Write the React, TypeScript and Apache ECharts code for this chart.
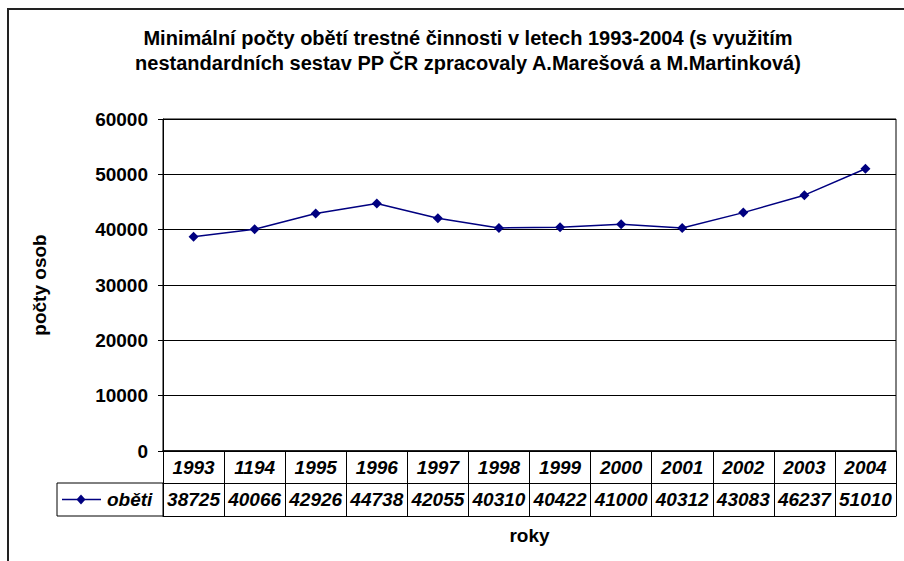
import React, { useEffect, useRef } from "react";
import * as echarts from "echarts";

const years = ["1993", "1194", "1995", "1996", "1997", "1998", "1999", "2000", "2001", "2002", "2003", "2004"];
const victims = [38725, 40066, 42926, 44738, 42055, 40310, 40422, 41000, 40312, 43083, 46237, 51010];
const seriesName = "oběti";
const titleText = "Minimální počty obětí trestné činnosti v letech 1993-2004 (s využitím\nnestandardních sestav PP ČR zpracovaly A.Marešová a M.Martinková)";
const yName = "počty osob";
const xName = "roky";

const FONT = "'Liberation Sans', Arial, sans-serif";
const NAVY = "#000080";

export default function App() {
  const ref = useRef<HTMLDivElement>(null);
  useEffect(() => {
    if (!ref.current) return;
    const chart = echarts.init(ref.current, undefined, { renderer: "svg" });
    const cellLabel = {
      fontFamily: FONT,
      fontSize: 19,
      fontWeight: "bold" as const,
      fontStyle: "italic" as const,
      color: "#000",
      verticalAlign: "middle" as const,
    };
    chart.setOption({
      animation: false,
      backgroundColor: "#fff",
      title: {
        text: titleText,
        left: 468,
        top: 25,
        padding: 0,
        textAlign: "center",
        textStyle: {
          fontFamily: FONT,
          fontSize: 20,
          fontWeight: "bold",
          color: "#000",
          lineHeight: 25,
        },
      },
      grid: {
        left: 163,
        right: 8,
        top: 119,
        bottom: 110,
        show: true,
        borderColor: "#000",
        borderWidth: 1,
        backgroundColor: "transparent",
      },
      xAxis: [
        {
          type: "category",
          data: years,
          boundaryGap: true,
          axisLine: { show: true, lineStyle: { color: "#000", width: 1.5 } },
          axisTick: { show: true, interval: 0, length: 32, lineStyle: { color: "#000" } },
          axisLabel: { ...cellLabel, margin: 16, interval: 0 },
          splitLine: { show: false },
        },
        {
          type: "category",
          data: victims.map((v) => String(v)),
          position: "bottom",
          offset: 32,
          boundaryGap: true,
          axisLine: { show: true, lineStyle: { color: "#000" } },
          axisTick: { show: true, interval: 0, length: 33, lineStyle: { color: "#000" } },
          axisLabel: { ...cellLabel, margin: 16.5, interval: 0 },
          splitLine: { show: false },
        },
        {
          type: "category",
          data: years,
          position: "bottom",
          offset: 65,
          boundaryGap: true,
          axisLine: { show: true, lineStyle: { color: "#000" } },
          axisTick: { show: false },
          axisLabel: { show: false },
          splitLine: { show: false },
          name: xName,
          nameLocation: "middle",
          nameGap: 19,
          nameTextStyle: {
            fontFamily: FONT,
            fontSize: 19,
            fontWeight: "bold",
            color: "#000",
            verticalAlign: "middle",
          },
        },
      ],
      yAxis: {
        type: "value",
        min: 0,
        max: 60000,
        interval: 10000,
        axisLine: { show: true, lineStyle: { color: "#000" } },
        axisTick: { show: true, length: 5, lineStyle: { color: "#000" } },
        splitLine: { show: true, lineStyle: { color: "#000", width: 1 } },
        axisLabel: {
          fontFamily: FONT,
          fontSize: 19,
          fontWeight: "bold",
          color: "#000",
          margin: 15,
          formatter: (v: number) => String(v),
        },
        name: yName,
        nameLocation: "middle",
        nameRotate: 90,
        nameGap: 114,
        nameTextStyle: {
          fontFamily: FONT,
          fontSize: 19,
          fontWeight: "bold",
          color: "#000",
        },
      },
      series: [
        {
          name: seriesName,
          type: "line",
          xAxisIndex: 0,
          yAxisIndex: 0,
          data: victims,
          symbol: "diamond",
          symbolSize: 10,
          lineStyle: { color: NAVY, width: 1.5 },
          itemStyle: { color: NAVY },
        },
      ],
      graphic: [
        {
          type: "rect",
          shape: { x: 8, y: 9, width: 1000, height: 1000 },
          style: { fill: "none", stroke: "#222", lineWidth: 2 },
          silent: true,
        },
        {
          type: "rect",
          shape: { x: 57, y: 483, width: 106, height: 33 },
          style: { fill: "none", stroke: "#000", lineWidth: 1 },
          silent: true,
        },
        {
          type: "line",
          shape: { x1: 62, y1: 499.5, x2: 101, y2: 499.5 },
          style: { stroke: NAVY, lineWidth: 1.5 },
          silent: true,
        },
        {
          type: "polygon",
          shape: { points: [[81, 494.5], [85.5, 499.5], [81, 504.5], [76.5, 499.5]] },
          style: { fill: NAVY },
          silent: true,
        },
        {
          type: "text",
          x: 107,
          y: 499.5,
          style: {
            text: seriesName,
            fontFamily: FONT,
            fontSize: 19,
            fontWeight: "bold",
            fontStyle: "italic",
            fill: "#000",
            verticalAlign: "middle",
          },
          silent: true,
        },
      ],
    });
    return () => chart.dispose();
  }, []);
  return (
    <div
      ref={ref}
      style={{ position: "absolute", left: 0, top: 0, width: 904, height: 561 }}
    />
  );
}
